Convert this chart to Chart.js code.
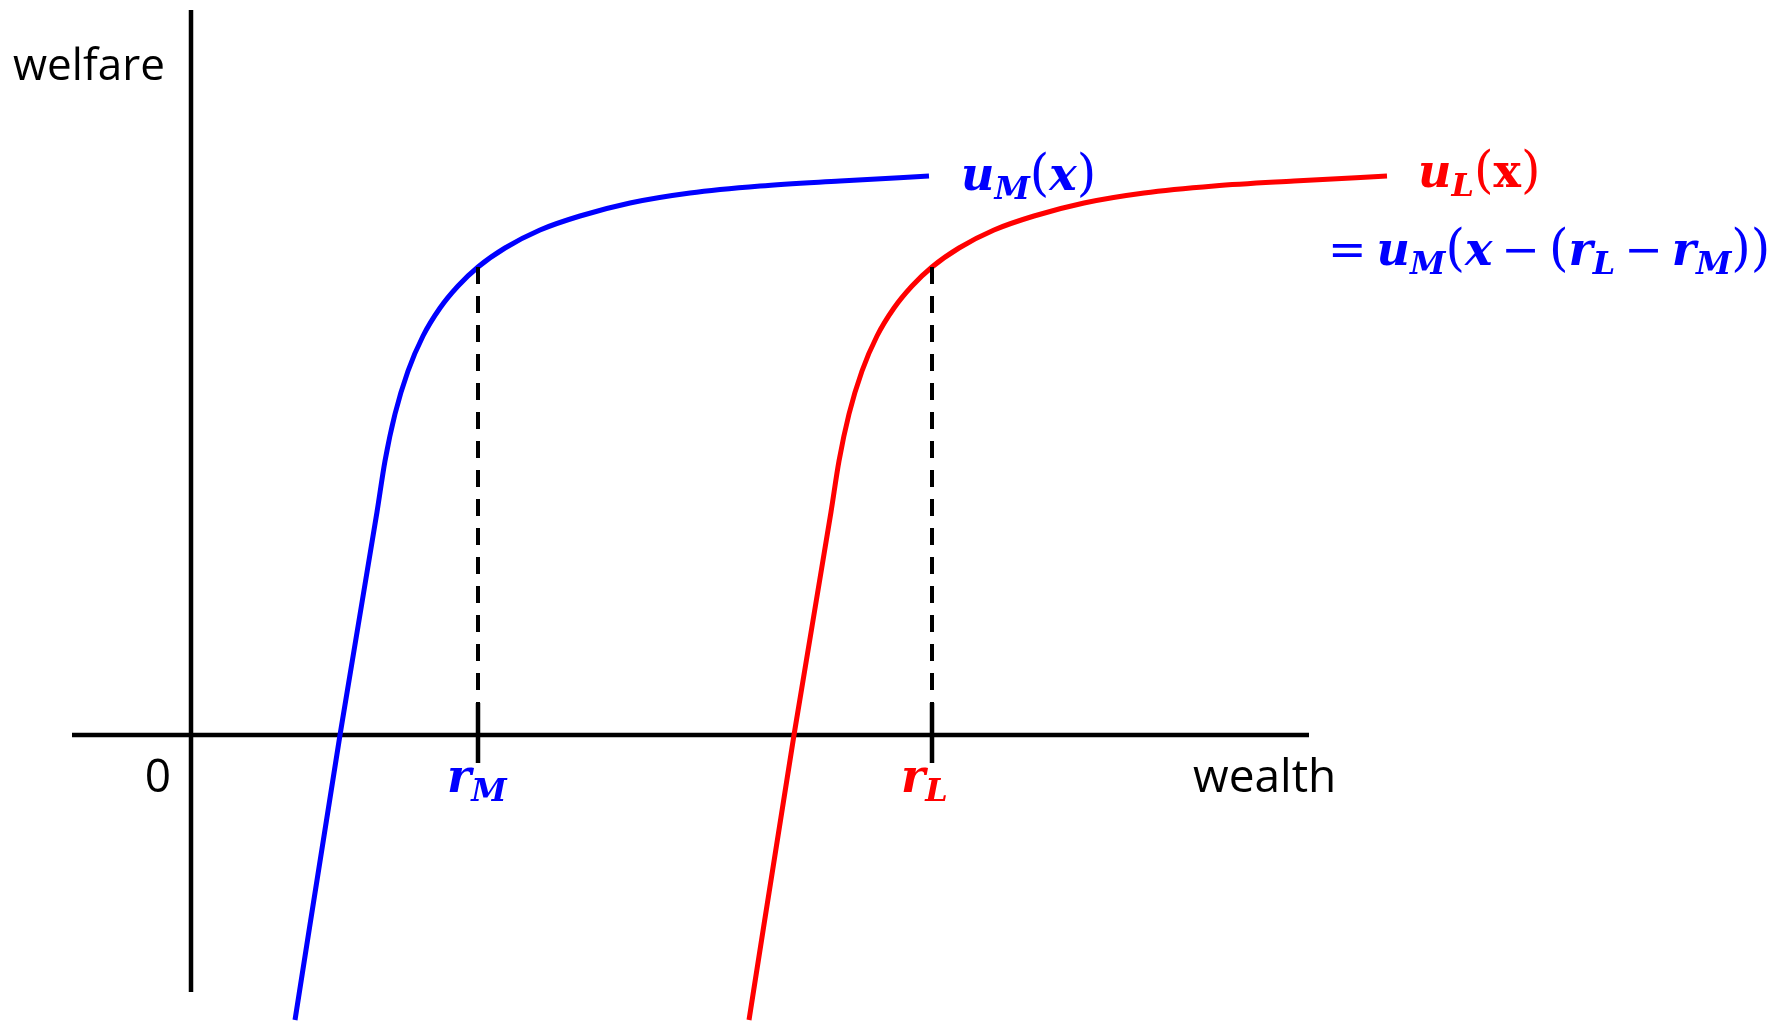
<!DOCTYPE html>
<html>
<head>
<meta charset="utf-8">
<title>welfare vs wealth</title>
<script src="https://cdn.jsdelivr.net/npm/chart.js@4.4.1/dist/chart.umd.min.js"></script>
<style>
  html, body { margin: 0; padding: 0; background: #fff; }
  #wrap { width: 1777px; height: 1023px; }
</style>
</head>
<body>
<div id="wrap"><canvas id="js-chart-welfare" width="1777" height="1023"></canvas></div>
<script>
// Values: 1 unit = 100px, origin where the two axes cross
const blueWealth  = [1.04, 1.49, 1.86, 1.94, 2.04, 2.17, 2.32, 2.49, 2.67, 2.87, 3.14, 3.49, 3.89, 4.39, 4.99, 5.69, 6.49, 7.38];
const blueWelfare = [-2.85, 0.00, 2.23, 2.74, 3.21, 3.64, 3.99, 4.27, 4.49, 4.68, 4.87, 5.05, 5.19, 5.32, 5.42, 5.49, 5.54, 5.59];
const redWealth   = [5.58, 6.03, 6.40, 6.48, 6.58, 6.71, 6.86, 7.03, 7.21, 7.41, 7.68, 8.03, 8.43, 8.93, 9.53, 10.23, 11.03, 11.96];
const redWelfare  = [-2.85, 0.00, 2.23, 2.74, 3.21, 3.64, 3.99, 4.27, 4.49, 4.68, 4.87, 5.05, 5.19, 5.32, 5.42, 5.49, 5.54, 5.59];

// reservation wealth levels r_M, r_L and the welfare reached there
const riskNames   = ['M', 'L'];
const riskWealth  = [2.87, 7.41];
const riskWelfare = [4.68, 4.68];

// axis extents
const xAxisFrom = -1.19, xAxisTo = 11.18;
const yAxisFrom = -2.57, yAxisTo = 7.25;

const BLUE = '#0000ff';
const RED = '#ff0000';
const MATH = '"DejaVu Serif", serif';
const SANS = '"Open Sans", "Noto Sans", sans-serif';

function toPoints(xs, ys) {
  return xs.map((v, i) => ({x: v, y: ys[i]}));
}

// draws a run of math text piece by piece (italic, subscripts, upright parens)
function drawMath(ctx, x, y, parts, color) {
  const fonts = {
    bi:  {font: 'italic bold 46px ' + MATH, dy: 0},
    sub: {font: 'italic bold 32px ' + MATH, dy: 9},
    r:   {font: '46px ' + MATH, dy: 0},
    p:   {font: '50px ' + MATH, dy: 0},
    b:   {font: 'bold 46px ' + MATH, dy: 0}
  };
  ctx.fillStyle = color;
  ctx.textBaseline = 'alphabetic';
  ctx.textAlign = 'left';
  let cx = x;
  parts.forEach(([t, s, gap]) => {
    ctx.font = fonts[s].font;
    ctx.fillText(t, cx, y + fonts[s].dy);
    cx += ctx.measureText(t).width + (gap || 0);
  });
}

const axesPlugin = {
  id: 'axes',
  beforeDatasetsDraw(chart) {
    const {ctx, scales: {x, y}} = chart;
    const x0 = x.getPixelForValue(0);
    const y0 = y.getPixelForValue(0);
    ctx.save();
    ctx.strokeStyle = '#000';
    ctx.lineWidth = 4.5;
    ctx.beginPath();
    ctx.moveTo(x0, y.getPixelForValue(yAxisTo));
    ctx.lineTo(x0, y.getPixelForValue(yAxisFrom));
    ctx.moveTo(x.getPixelForValue(xAxisFrom), y0);
    ctx.lineTo(x.getPixelForValue(xAxisTo), y0);
    riskWealth.forEach(r => {
      const px = x.getPixelForValue(r);
      ctx.moveTo(px, y0 - 32);
      ctx.lineTo(px, y0 + 28);
    });
    ctx.stroke();
    ctx.restore();
  }
};

const labelsPlugin = {
  id: 'labels',
  afterDraw(chart) {
    const {ctx, scales: {x, y}} = chart;
    const x0 = x.getPixelForValue(0);
    const y0 = y.getPixelForValue(0);
    ctx.save();

    ctx.fillStyle = '#000';
    ctx.textBaseline = 'alphabetic';
    ctx.font = '44px ' + SANS;
    ctx.textAlign = 'left';
    ctx.fillText('welfare', 13, 80);
    ctx.font = '46px ' + SANS;
    ctx.textAlign = 'right';
    ctx.fillText('0', x0 - 20, y0 + 57);
    ctx.textAlign = 'left';
    ctx.fillText('wealth', 1193, y0 + 57);

    // r_M, r_L under the ticks
    riskWealth.forEach((r, i) => {
      const px = x.getPixelForValue(r);
      drawMath(ctx, px - 31, y0 + 57, [['r', 'bi'], [riskNames[i], 'sub']], i === 0 ? BLUE : RED);
    });

    // curve labels
    drawMath(ctx, 961, 190, [['u', 'bi'], ['M', 'sub'], ['(', 'p'], ['x', 'bi'], [')', 'p']], BLUE);
    drawMath(ctx, 1418, 187, [['u', 'bi'], ['L', 'sub'], ['(', 'p'], ['x', 'b'], [')', 'p']], RED);
    drawMath(ctx, 1328, 265, [
      ['=', 'r', 10], ['u', 'bi'], ['M', 'sub'], ['(', 'p'], ['x', 'bi', 9], ['\u2212', 'r', 9],
      ['(', 'p'], ['r', 'bi'], ['L', 'sub', 9], ['\u2212', 'r', 9], ['r', 'bi'], ['M', 'sub'], ['))', 'p']
    ], BLUE);

    ctx.restore();
  }
};

const curveStyle = {
  showLine: true,
  fill: false,
  borderWidth: 5,
  pointRadius: 0,
  pointHoverRadius: 0,
  cubicInterpolationMode: 'monotone',
  clip: false
};

const dropLines = riskWealth.map((r, i) => ({
  label: 'r_' + riskNames[i],
  data: [{x: r, y: riskWelfare[i]}, {x: r, y: 0}],
  showLine: true,
  borderColor: '#000',
  borderWidth: 4,
  borderDash: [17, 12],
  pointRadius: 0,
  tension: 0,
  clip: false
}));

const chartWelfareCon = document.getElementById('js-chart-welfare');
const chartWelfare = new Chart(chartWelfareCon, {
  type: 'scatter',
  data: {
    datasets: [
      ...dropLines,
      Object.assign({label: 'u_M(x)', data: toPoints(blueWealth, blueWelfare), borderColor: BLUE}, curveStyle),
      Object.assign({label: 'u_L(x)', data: toPoints(redWealth, redWelfare), borderColor: RED}, curveStyle)
    ]
  },
  options: {
    responsive: false,
    devicePixelRatio: 1,
    animation: false,
    layout: {padding: 0},
    scales: {
      x: {type: 'linear', min: -1.91, max: 15.86, display: false},
      y: {type: 'linear', min: -2.88, max: 7.35, display: false}
    },
    plugins: {
      legend: {display: false},
      tooltip: {enabled: false}
    }
  },
  plugins: [axesPlugin, labelsPlugin]
});
</script>
</body>
</html>
